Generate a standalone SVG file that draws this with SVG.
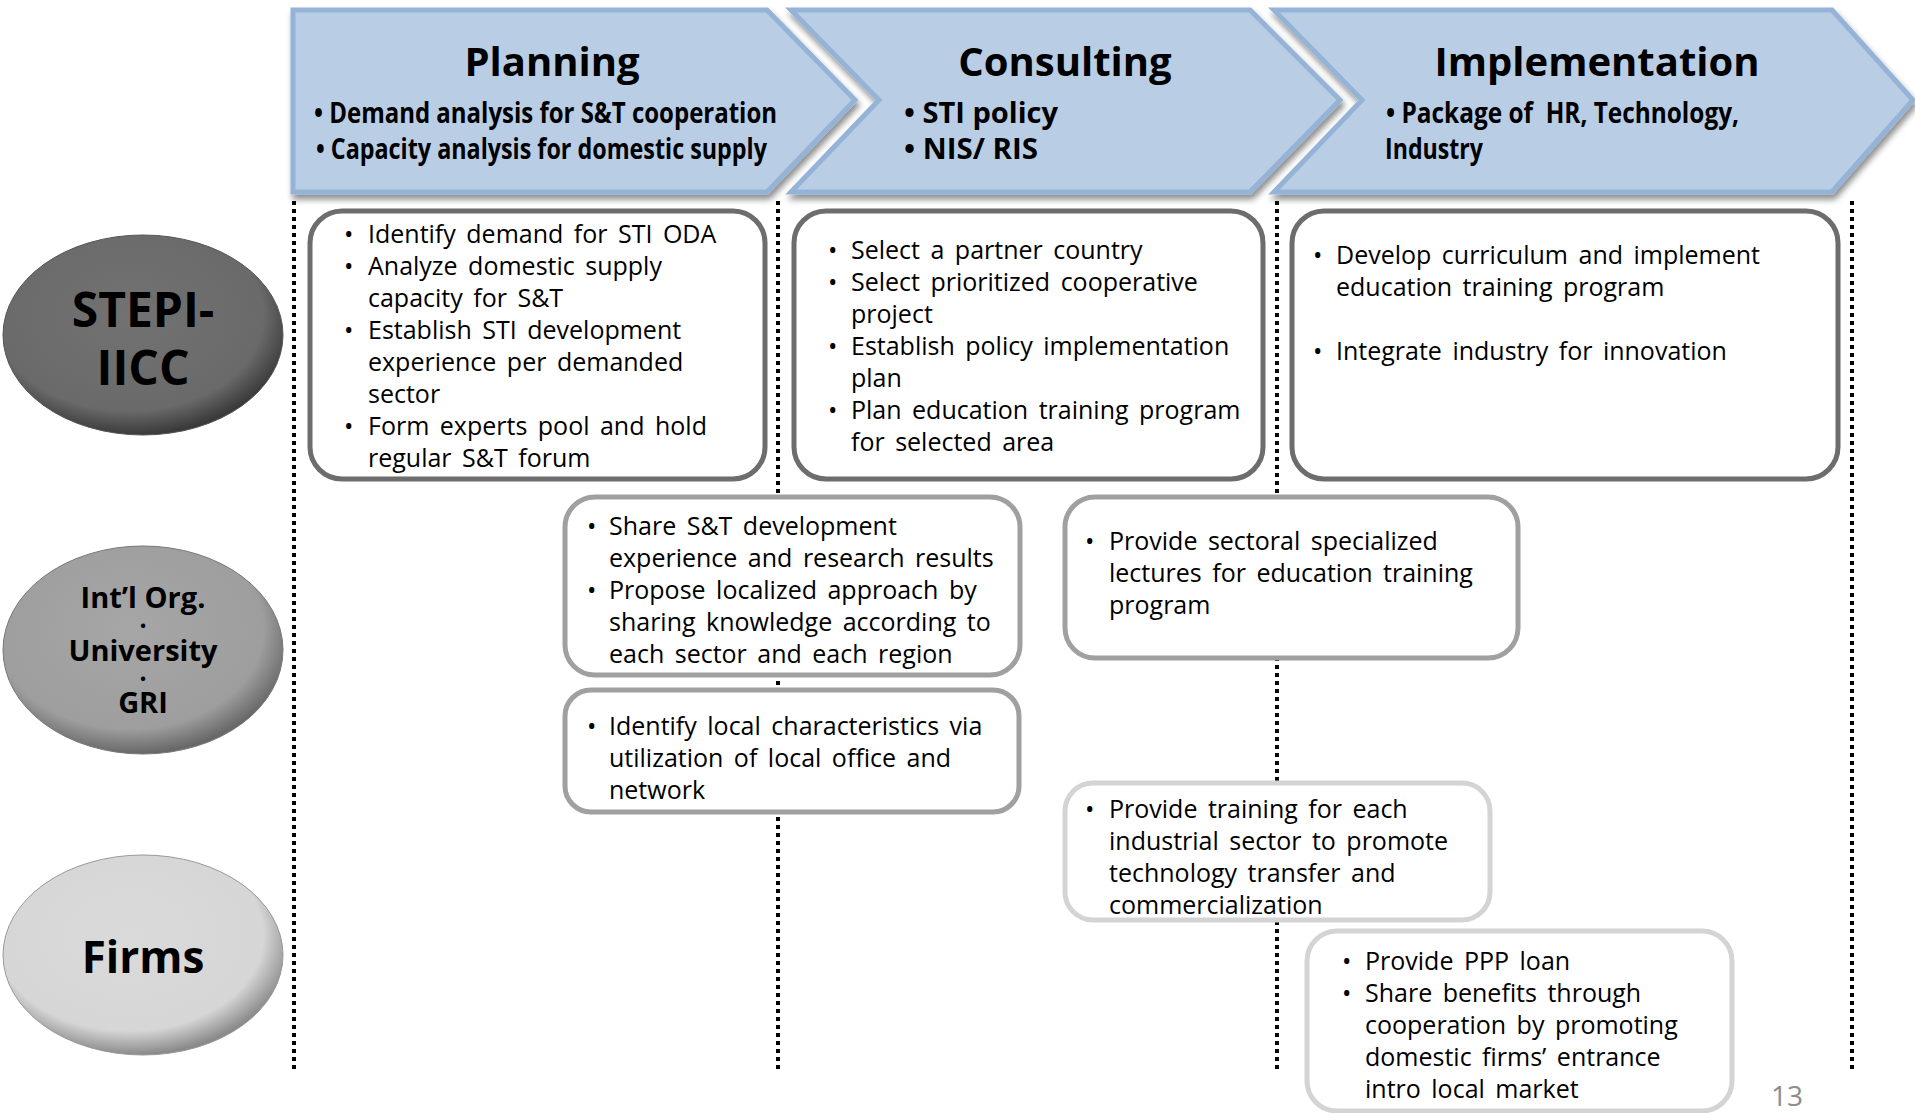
<svg xmlns="http://www.w3.org/2000/svg" width="1915" height="1113" viewBox="0 0 1915 1113">
<defs>
<style>
.chev{fill:#b9cde5;stroke:#95b3d7;stroke-width:5;stroke-linejoin:miter;filter:url(#sh)}
.ttl{font-family:"Open Sans","Liberation Sans",sans-serif;font-weight:bold;font-size:40px;fill:#000;text-anchor:middle}
.sub{font-family:"Open Sans","Liberation Sans",sans-serif;font-weight:bold;font-size:28px;fill:#000}
.lane{stroke:#000;stroke-width:4;stroke-dasharray:4 4;fill:none}
.box{fill:#fff;stroke-width:5}
.b1{stroke:#6d6d6d}
.b2{stroke:#a0a0a0}
.b3{stroke:#d4d4d4}
.tx{font-family:"Open Sans","Liberation Sans",sans-serif;font-size:25px;word-spacing:4px;fill:#000}
.el{font-family:"Open Sans","Liberation Sans",sans-serif;font-weight:bold;fill:#000;text-anchor:middle}
</style>
<filter id="sh" x="-5%" y="-10%" width="115%" height="130%">
<feGaussianBlur in="SourceAlpha" stdDeviation="3"/>
<feOffset dx="2" dy="5" result="b"/>
<feComponentTransfer><feFuncA type="linear" slope="0.45"/></feComponentTransfer>
<feMerge><feMergeNode/><feMergeNode in="SourceGraphic"/></feMerge>
</filter>
<radialGradient id="g1" cx="0.45" cy="0.4" r="0.6">
<stop offset="0" stop-color="#727272"/><stop offset="0.8" stop-color="#6a6a6a"/><stop offset="1" stop-color="#3a3a3a"/>
</radialGradient>
<radialGradient id="g2" cx="0.45" cy="0.4" r="0.6">
<stop offset="0" stop-color="#a6a6a6"/><stop offset="0.8" stop-color="#9e9e9e"/><stop offset="1" stop-color="#686868"/>
</radialGradient>
<radialGradient id="g3" cx="0.45" cy="0.4" r="0.6">
<stop offset="0" stop-color="#dadada"/><stop offset="0.8" stop-color="#d6d6d6"/><stop offset="1" stop-color="#8a8a8a"/>
</radialGradient>
</defs>
<rect width="1915" height="1113" fill="#fff"/>

<g id="connectors">
<line class="lane" x1="294" y1="201" x2="294" y2="1069"/>
<line class="lane" x1="778" y1="201" x2="778" y2="1069"/>
<line class="lane" x1="1277" y1="201" x2="1277" y2="1069"/>
<line class="lane" x1="1852" y1="201" x2="1852" y2="1069"/>
</g>

<g id="phase-planning">
<path class="chev" d="M293,10 L767,10 L855,100 L767,192 L293,192 Z"/>
<text class="ttl" x="552" y="76">Planning</text>
<text class="sub" x="314" y="123" textLength="463" lengthAdjust="spacingAndGlyphs">• Demand analysis for S&amp;T cooperation</text>
<text class="sub" x="316" y="159" textLength="451" lengthAdjust="spacingAndGlyphs">• Capacity analysis for domestic supply</text>
</g>
<g id="phase-consulting">
<path class="chev" d="M791,10 L1250,10 L1340,100 L1250,192 L791,192 L879,100 Z"/>
<text class="ttl" x="1065" y="76">Consulting</text>
<text class="sub" x="904" y="123" textLength="154" lengthAdjust="spacingAndGlyphs">• STI policy</text>
<text class="sub" x="904" y="159" textLength="134" lengthAdjust="spacingAndGlyphs">• NIS/ RIS</text>
</g>
<g id="phase-implementation">
<path class="chev" d="M1274,10 L1832,10 L1913,100 L1832,192 L1274,192 L1362,100 Z"/>
<text class="ttl" x="1597" y="76">Implementation</text>
<text class="sub" x="1386" y="123" textLength="353" lengthAdjust="spacingAndGlyphs" xml:space="preserve">• Package of  HR, Technology,</text>
<text class="sub" x="1385" y="159" textLength="98" lengthAdjust="spacingAndGlyphs">Industry</text>
</g>

<g id="actor-stepi">
<ellipse cx="143" cy="335" rx="140" ry="100" fill="url(#g1)" stroke="#555" stroke-width="1"/>
<text class="el" font-size="48"><tspan x="143" y="327">STEPI-</tspan><tspan x="143" y="385">IICC</tspan></text>
</g>
<g id="actor-intl">
<ellipse cx="143" cy="650" rx="140" ry="104" fill="url(#g2)" stroke="#777" stroke-width="1"/>
<text class="el" font-size="29"><tspan x="143" y="608">Int’l Org.</tspan><tspan x="143" y="631" font-size="15">•</tspan><tspan x="143" y="661">University</tspan><tspan x="143" y="684" font-size="15">•</tspan><tspan x="143" y="713">GRI</tspan></text>
</g>
<g id="actor-firms">
<ellipse cx="143" cy="955" rx="140" ry="100" fill="url(#g3)" stroke="#999" stroke-width="1"/>
<text class="el" x="143" y="973" font-size="44">Firms</text>
</g>

<g id="box-stepi-planning">
<rect class="box b1" x="310" y="211" width="455" height="268" rx="32"/>
<text class="tx">
<tspan x="344" y="243">•</tspan><tspan x="344" y="275">•</tspan><tspan x="344" y="339">•</tspan><tspan x="344" y="435">•</tspan>
</text>
<text class="tx">
<tspan x="368" y="243">Identify demand for STI ODA</tspan>
<tspan x="368" y="275">Analyze domestic supply</tspan>
<tspan x="368" y="307">capacity for S&amp;T</tspan>
<tspan x="368" y="339">Establish STI development</tspan>
<tspan x="368" y="371">experience per demanded</tspan>
<tspan x="368" y="403">sector</tspan>
<tspan x="368" y="435">Form experts pool and hold</tspan>
<tspan x="368" y="467">regular S&amp;T forum</tspan>
</text>
</g>

<g id="box-stepi-consulting">
<rect class="box b1" x="794" y="211" width="469" height="268" rx="32"/>
<text class="tx">
<tspan x="828" y="259">•</tspan><tspan x="828" y="291">•</tspan><tspan x="828" y="355">•</tspan><tspan x="828" y="419">•</tspan>
</text>
<text class="tx">
<tspan x="851" y="259">Select a partner country</tspan>
<tspan x="851" y="291">Select prioritized cooperative</tspan>
<tspan x="851" y="323">project</tspan>
<tspan x="851" y="355">Establish policy implementation</tspan>
<tspan x="851" y="387">plan</tspan>
<tspan x="851" y="419">Plan education training program</tspan>
<tspan x="851" y="451">for selected area</tspan>
</text>
</g>

<g id="box-stepi-implementation">
<rect class="box b1" x="1292" y="211" width="546" height="268" rx="32"/>
<text class="tx">
<tspan x="1313" y="264">•</tspan><tspan x="1313" y="360">•</tspan>
</text>
<text class="tx">
<tspan x="1336" y="264">Develop curriculum and implement</tspan>
<tspan x="1336" y="296">education training program</tspan>
<tspan x="1336" y="360">Integrate industry for innovation</tspan>
</text>
</g>

<g id="box-intl-share">
<rect class="box b2" x="565" y="497" width="455" height="178" rx="30"/>
<text class="tx">
<tspan x="587" y="535">•</tspan><tspan x="587" y="599">•</tspan>
</text>
<text class="tx">
<tspan x="609" y="535">Share S&amp;T development</tspan>
<tspan x="609" y="567">experience and research results</tspan>
<tspan x="609" y="599">Propose localized approach by</tspan>
<tspan x="609" y="631">sharing knowledge according to</tspan>
<tspan x="609" y="663">each sector and each region</tspan>
</text>
</g>

<g id="box-intl-local">
<rect class="box b2" x="565" y="690" width="454" height="122" rx="26"/>
<text class="tx"><tspan x="587" y="735">•</tspan></text>
<text class="tx">
<tspan x="609" y="735">Identify local characteristics via</tspan>
<tspan x="609" y="767">utilization of local office and</tspan>
<tspan x="609" y="799">network</tspan>
</text>
</g>

<g id="box-intl-lectures">
<rect class="box b2" x="1065" y="497" width="453" height="161" rx="30"/>
<text class="tx"><tspan x="1085" y="550">•</tspan></text>
<text class="tx">
<tspan x="1109" y="550">Provide sectoral specialized</tspan>
<tspan x="1109" y="582">lectures for education training</tspan>
<tspan x="1109" y="614">program</tspan>
</text>
</g>

<g id="box-firms-training">
<rect class="box b3" x="1065" y="783" width="425" height="137" rx="28"/>
<text class="tx"><tspan x="1085" y="818">•</tspan></text>
<text class="tx">
<tspan x="1109" y="818">Provide training for each</tspan>
<tspan x="1109" y="850">industrial sector to promote</tspan>
<tspan x="1109" y="882">technology transfer and</tspan>
<tspan x="1109" y="914">commercialization</tspan>
</text>
</g>

<g id="box-firms-ppp">
<rect class="box b3" x="1307" y="931" width="425" height="180" rx="30"/>
<text class="tx">
<tspan x="1342" y="970">•</tspan><tspan x="1342" y="1002">•</tspan>
</text>
<text class="tx">
<tspan x="1365" y="970">Provide PPP loan</tspan>
<tspan x="1365" y="1002">Share benefits through</tspan>
<tspan x="1365" y="1034">cooperation by promoting</tspan>
<tspan x="1365" y="1066">domestic firms’ entrance</tspan>
<tspan x="1365" y="1098">intro local market</tspan>
</text>
</g>

<text x="1771" y="1106" font-family="Open Sans, Liberation Sans, sans-serif" font-size="28" fill="#8c8c8c">13</text>
</svg>
